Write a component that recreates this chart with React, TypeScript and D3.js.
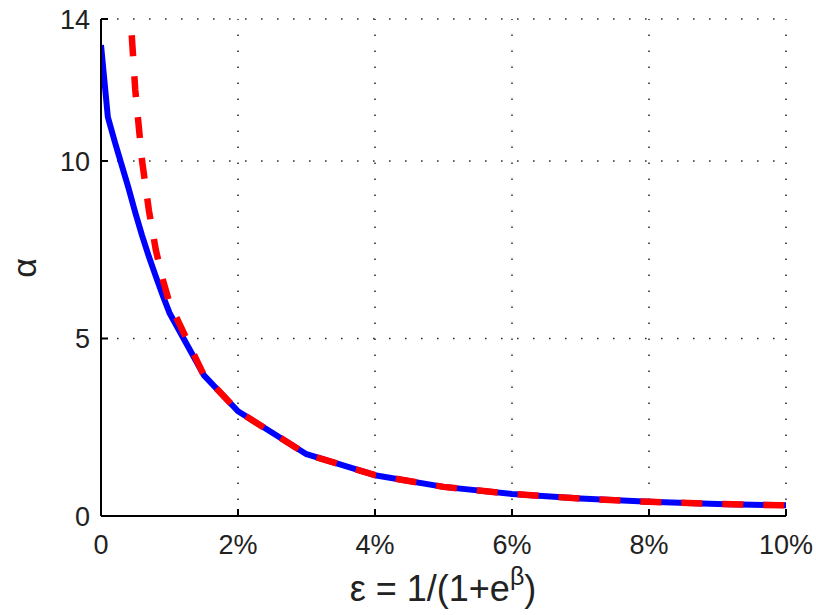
import React, { useEffect, useRef } from 'react';
import * as d3 from 'd3';

// epsilon in percent
const xTicks = [0, 2, 4, 6, 8, 10];
const xTickLabels = ['0', '2%', '4%', '6%', '8%', '10%'];
const yTicks = [0, 5, 10, 14];

const blueEps = [0, 0.1, 0.2, 0.3, 0.4, 0.5, 0.6, 0.7, 0.8, 0.9, 1.0, 1.5, 2, 3, 4, 5, 6, 7, 8, 9, 10];
const blueAlpha = [13.27, 11.24, 10.55, 9.9, 9.25, 8.55, 7.9, 7.3, 6.75, 6.22, 5.72, 3.97, 2.95, 1.74, 1.15, 0.82, 0.62, 0.49, 0.4, 0.34, 0.3];

const redEps = [0.35, 0.4, 0.5, 0.6, 0.7, 0.8, 0.9, 1.0, 1.5, 2, 3, 4, 5, 6, 7, 8, 9, 10];
const redAlpha = [17, 15, 12, 10, 8.6, 7.5, 6.67, 6.0, 3.97, 2.95, 1.74, 1.15, 0.82, 0.62, 0.49, 0.4, 0.34, 0.3];

const W = 816;
const H = 615;
const FONT = '"Liberation Sans", Arial, Helvetica, sans-serif';

export default function App() {
  const ref = useRef<SVGSVGElement>(null);

  useEffect(() => {
    const svg = d3.select(ref.current);
    svg.selectAll('*').remove();

    const x = d3.scaleLinear().domain([0, 10]).range([101, 786]);
    const y = d3.scaleLinear().domain([0, 14]).range([516, 19]);

    svg.append('defs').append('clipPath').attr('id', 'plotclip')
      .append('rect')
      .attr('x', x(0)).attr('y', y(14))
      .attr('width', x(10) - x(0)).attr('height', y(0) - y(14));

    // dotted grid
    const grid = svg.append('g').attr('stroke', '#333').attr('stroke-width', 1.6)
      .attr('stroke-dasharray', '1.6 14.4');
    grid.selectAll('.vg').data(xTicks.filter(d => d > 0)).enter().append('line')
      .attr('x1', d => x(d)).attr('x2', d => x(d))
      .attr('y1', y(0)).attr('y2', y(14));
    grid.selectAll('.hg').data(yTicks.filter(d => d > 0)).enter().append('line')
      .attr('y1', d => y(d)).attr('y2', d => y(d))
      .attr('x1', x(0)).attr('x2', x(10));

    const curve = d3.line<[number, number]>().x(d => x(d[0])).y(d => y(d[1]));
    const plot = svg.append('g').attr('clip-path', 'url(#plotclip)');
    plot.append('path')
      .attr('d', curve(blueEps.map((e, i) => [e, blueAlpha[i]] as [number, number])))
      .attr('fill', 'none').attr('stroke', '#0000ff').attr('stroke-width', 6)
      .attr('stroke-linejoin', 'round');
    plot.append('path')
      .attr('d', curve(redEps.map((e, i) => [e, redAlpha[i]] as [number, number])))
      .attr('fill', 'none').attr('stroke', '#ff0000').attr('stroke-width', 6.5)
      .attr('stroke-dasharray', '21 20');

    // axes
    const axes = svg.append('g').attr('stroke', '#000').attr('stroke-width', 2);
    axes.append('line').attr('x1', x(0)).attr('x2', x(10)).attr('y1', y(0)).attr('y2', y(0));
    axes.append('line').attr('x1', x(0)).attr('x2', x(0)).attr('y1', y(0)).attr('y2', y(14));
    axes.selectAll('.xt').data(xTicks).enter().append('line')
      .attr('x1', d => x(d)).attr('x2', d => x(d))
      .attr('y1', y(0)).attr('y2', y(0) - 7);
    axes.selectAll('.yt').data(yTicks).enter().append('line')
      .attr('x1', x(0)).attr('x2', x(0) + 7)
      .attr('y1', d => y(d)).attr('y2', d => y(d));

    svg.selectAll('.xl').data(xTicks).enter().append('text')
      .attr('x', d => x(d)).attr('y', 554)
      .attr('text-anchor', 'middle')
      .attr('font-family', FONT).attr('font-size', 27).attr('fill', '#222')
      .text((d, i) => xTickLabels[i]);

    svg.selectAll('.yl').data(yTicks).enter().append('text')
      .attr('x', 90).attr('y', d => y(d) + 9.5)
      .attr('text-anchor', 'end')
      .attr('font-family', FONT).attr('font-size', 27).attr('fill', '#222')
      .text(d => d);

    const xt = svg.append('text')
      .attr('x', 443).attr('y', 601)
      .attr('text-anchor', 'middle')
      .attr('font-family', FONT).attr('font-size', 36).attr('fill', '#222');
    xt.append('tspan').text('ε = 1/(1+e');
    xt.append('tspan').attr('dy', -16).attr('font-size', 25).text('β');
    xt.append('tspan').attr('dy', 16).text(')');

    svg.append('text')
      .attr('transform', 'translate(36 268) rotate(-90)')
      .attr('text-anchor', 'middle')
      .attr('font-family', FONT).attr('font-size', 34).attr('fill', '#222')
      .text('α');
  }, []);

  return (
    <svg ref={ref} width={W} height={H}
      style={{ position: 'absolute', left: 0, top: 0, background: '#fff' }} />
  );
}
